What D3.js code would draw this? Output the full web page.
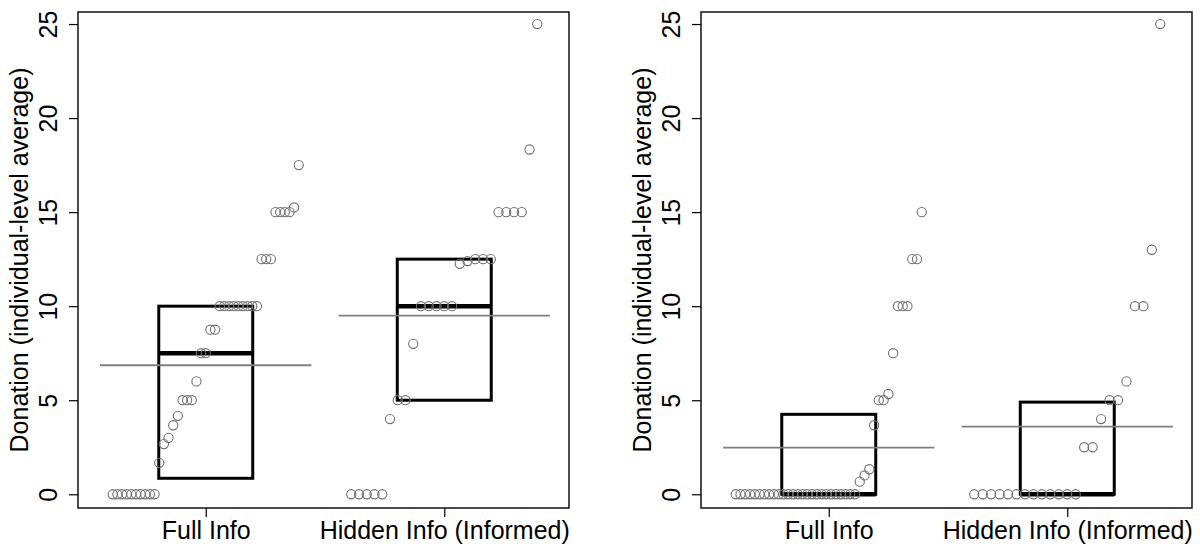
<!DOCTYPE html>
<html><head><meta charset="utf-8">
<script src="https://cdn.jsdelivr.net/npm/d3@7"></script>
<style>body{margin:0;background:#fff}svg{display:block}text{font-family:"Liberation Sans",Arial,sans-serif}</style>
</head><body>
<svg id="c" width="1200" height="547"></svg>
<script>
// ---- data ----
const categories = ["Full Info", "Hidden Info (Informed)"];
const yTicks = [0, 5, 10, 15, 20, 25];
const yTitle = "Donation (individual-level average)";

// left panel, individual points (sorted)
const leftFull = [0,0,0,0,0,0,0,0,0,0, 1.67,2.67,3,3.67,4.17, 5,5,5, 6, 7.5,7.5, 8.75,8.75,
  10,10,10,10,10,10,10,10,10, 12.5,12.5,12.5, 15,15,15,15, 15.25, 17.5];
const leftHidden = [0,0,0,0,0, 4, 5,5, 8, 10,10,10,10,10, 12.25, 12.4, 12.5,12.5,12.5,
  15,15,15,15, 18.33, 25];
// right panel
const rightFull = [0,0,0,0,0,0,0,0,0,0,0,0,0,0,0,0,0,0,0,0,0,0,0,0,0,0,
  0.67, 1, 1.33, 3.67, 5, 5, 5.33, 7.5, 10,10,10, 12.5,12.5, 15];
const rightHidden = [0,0,0,0,0,0,0,0,0,0,0,0,0, 2.5,2.5, 4, 5,5, 6, 10,10, 13, 25];

// box summaries [q1, median, q3] and means
const leftQ1 = [0.85, 5], leftMedian = [7.5, 10], leftQ3 = [10, 12.5], leftMean = [6.86, 9.5];
const rightQ1 = [0, 0], rightMedian = [0, 0], rightQ3 = [4.25, 4.9], rightMean = [2.48, 3.6];

const panels = [
  {x0: 78, series: [leftFull, leftHidden], q1: leftQ1, med: leftMedian, q3: leftQ3, mean: leftMean},
  {x0: 701, series: [rightFull, rightHidden], q1: rightQ1, med: rightMedian, q3: rightQ3, mean: rightMean}
];

const svg = d3.select("#c");
const W = 491, yTop = 12, yBot = 508;
const y = d3.scaleLinear().domain([-0.73, 25.64]).range([yBot, yTop]);

panels.forEach(p => {
  const x = d3.scaleLinear().domain([0.4644, 2.523]).range([p.x0, p.x0 + W]);
  const g = svg.append("g");

  // boxes
  categories.forEach((c, i) => {
    const cx = i + 1;
    g.append("rect")
      .attr("x", x(cx - 0.197)).attr("width", x(cx + 0.197) - x(cx - 0.197))
      .attr("y", y(p.q3[i])).attr("height", y(p.q1[i]) - y(p.q3[i]))
      .attr("fill", "none").attr("stroke", "#000").attr("stroke-width", 3);
    g.append("line")
      .attr("x1", x(cx - 0.197)).attr("x2", x(cx + 0.197))
      .attr("y1", y(p.med[i])).attr("y2", y(p.med[i]))
      .attr("stroke", "#000").attr("stroke-width", 4.5);
    g.append("line")
      .attr("x1", x(cx - 0.443)).attr("x2", x(cx + 0.443))
      .attr("y1", y(p.mean[i])).attr("y2", y(p.mean[i]))
      .attr("stroke", "#7f7f7f").attr("stroke-width", 1.8);
  });

  // points (rank-ordered horizontal spread)
  p.series.forEach((vals, i) => {
    const cx = i + 1, n = vals.length;
    g.selectAll(null).data(vals).enter().append("circle")
      .attr("cx", (d, k) => x(cx - 0.39 + 0.78 * k / (n - 1)))
      .attr("cy", d => y(d))
      .attr("r", 4.6)
      .attr("fill", "none").attr("stroke", "#707070").attr("stroke-width", 1.1);
  });

  // frame
  g.append("rect").attr("x", p.x0).attr("y", yTop).attr("width", W).attr("height", yBot - yTop)
    .attr("fill", "none").attr("stroke", "#000").attr("stroke-width", 1.4);

  // y axis
  const yAxis = d3.axisLeft(y).tickValues(yTicks).tickSize(9).tickPadding(12).tickFormat(d3.format("d"));
  const ya = g.append("g").attr("transform", `translate(${p.x0},0)`).call(yAxis);
  ya.select(".domain").remove();
  ya.selectAll(".tick line").attr("stroke", "#000").attr("stroke-width", 1.2);
  ya.selectAll(".tick text")
    .attr("x", null).attr("dy", null)
    .attr("transform", "translate(-21,0) rotate(-90)")
    .attr("text-anchor", "middle")
    .attr("font-size", 25).attr("fill", "#000");

  // x axis
  const xAxis = d3.axisBottom(x).tickValues([1, 2]).tickSize(9).tickPadding(12)
    .tickFormat((d) => categories[d - 1]);
  const xa = g.append("g").attr("transform", `translate(0,${yBot})`).call(xAxis);
  xa.select(".domain").remove();
  xa.selectAll(".tick line").attr("stroke", "#000").attr("stroke-width", 1.2);
  xa.selectAll(".tick text").attr("dy", null).attr("y", 31).attr("font-size", 25).attr("fill", "#000");

  // y title
  g.append("text")
    .attr("transform", `translate(${p.x0 - 50},${(yTop + yBot) / 2}) rotate(-90)`)
    .attr("text-anchor", "middle").attr("font-size", 25).attr("fill", "#000")
    .text(yTitle);
});
</script>
</body></html>
